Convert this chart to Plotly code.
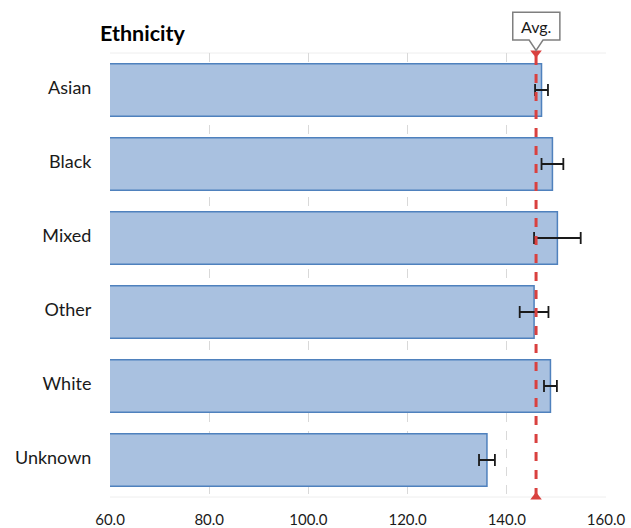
import plotly.graph_objects as go

# Data
categories = ["Asian", "Black", "Mixed", "Other", "White", "Unknown"]
values = [147.0, 149.2, 150.2, 145.5, 148.8, 136.0]
errors = [1.3, 2.2, 4.7, 2.9, 1.3, 1.6]
average = 145.9
x_ticks = [60, 80, 100, 120, 140, 160]

FONT = "Lato"
fig = go.Figure()

fig.add_trace(go.Bar(
    y=categories, x=values, base=0, orientation="h",
    marker=dict(color="#a9c1e0", line=dict(color="#4f81bd", width=1.5)),
    width=0.71,
    error_x=dict(type="data", array=errors, color="#1a1a1a", thickness=1.8, width=6),
    showlegend=False, hoverinfo="skip",
))

# Triangle markers at both ends of the average line
fig.add_trace(go.Scatter(
    x=[average, average], y=[1.0, 0.0], yaxis="y2", mode="markers",
    marker=dict(symbol=["triangle-down", "triangle-up"], size=10, color="#d9413f"),
    cliponaxis=False, showlegend=False, hoverinfo="skip",
))

shapes = []
# Average reference line
shapes.append(dict(type="line", xref="x", yref="paper", x0=average, x1=average,
                   y0=0, y1=1, line=dict(color="#d9413f", width=3, dash="dash"), layer="above"))
# Faint top/bottom frame lines
for yy in (0, 1):
    shapes.append(dict(type="line", xref="paper", yref="paper", x0=0, x1=1, y0=yy, y1=yy,
                       line=dict(color="#eeeeee", width=1), layer="below"))
# Callout box with pointer for the "Avg." label
a = average
bl, br, bt, bb, tip = a - 4.7, a + 4.8, 1.092, 1.029, 1.006
path = (f"M {bl},{bb} L {a-1.4},{bb} L {a},{tip} L {a+1.4},{bb} L {br},{bb} "
        f"L {br},{bt} L {bl},{bt} Z")
shapes.append(dict(type="path", xref="x", yref="paper", path=path,
                   fillcolor="white", line=dict(color="#7f7f7f", width=1.5), layer="above"))

fig.update_layout(
    width=631, height=528,
    margin=dict(l=110, r=25, t=53, b=31),
    paper_bgcolor="white", plot_bgcolor="white",
    font=dict(family=FONT, size=18, color="#1a1a1a"),
    bargap=0.29,
    shapes=shapes,
    xaxis=dict(range=[60, 160], tickvals=x_ticks, automargin=False,
               ticktext=[f"{v:.1f}" for v in x_ticks],
               showgrid=True, gridcolor="#d9d9d9", griddash="dash", gridwidth=1,
               zeroline=False, showline=False, ticks="outside", ticklen=9,
               tickcolor="white", tickfont=dict(size=15, family=FONT)),
    yaxis=dict(categoryorder="array", categoryarray=categories, automargin=False,
               autorange="reversed", showgrid=False, zeroline=False,
               ticks="outside", ticklen=14, tickcolor="white", ticklabelshift=2,
               tickfont=dict(size=18, family=FONT)),
    yaxis2=dict(overlaying="y", range=[0, 1], visible=False),
    annotations=[
        dict(text="<b>Ethnicity</b>", xref="paper", yref="paper", x=-0.024, y=1.0,
             xanchor="left", yanchor="bottom", yshift=5, showarrow=False,
             font=dict(size=21.5, family=FONT, color="#000000")),
        dict(text="Avg.", xref="x", yref="paper", x=average + 0.05, y=(bt + bb) / 2,
             xanchor="center", yanchor="middle", showarrow=False,
             font=dict(size=16, family=FONT, color="#1a1a1a")),
    ],
)

fig.write_html("out.html")
